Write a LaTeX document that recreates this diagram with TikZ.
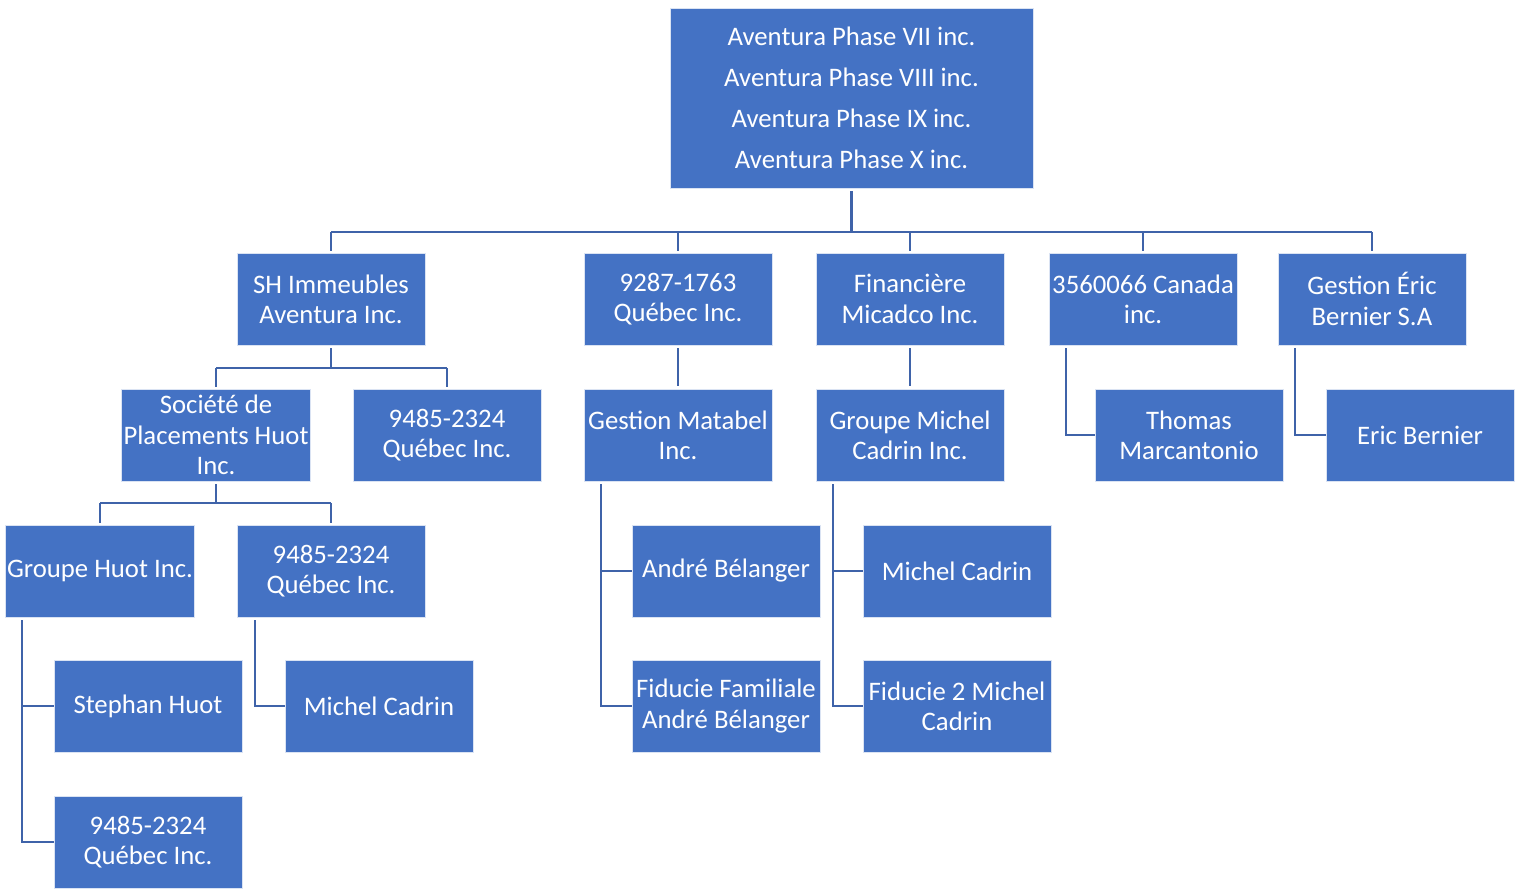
\documentclass[tikz,border=0pt]{standalone}
\usepackage{fontspec}
\setmainfont{Carlito}
\usetikzlibrary{positioning}
\definecolor{boxblue}{HTML}{4472C4}
\definecolor{linkblue}{HTML}{3F63A9}

\begin{document}
\begin{tikzpicture}[x=0.01cm, y=-0.01cm,
	every node/.style={font=\fontsize{7.6}{8.6}\selectfont},
	orgbox/.style={rectangle, fill=boxblue, draw=white!80!boxblue, line width=0.2pt, text=white, align=center, minimum width=1.88cm, minimum height=0.92cm, inner sep=0.5pt},
	link/.style={draw=linkblue, line width=0.55pt},
	trunk/.style={draw=linkblue, line width=0.8pt}]
	\useasboundingbox (0,0) rectangle (1525,888);
	% top box
	\node[orgbox, minimum width=3.63cm, minimum height=1.8cm, font=\fontsize{7.6}{11.7}\selectfont] (top) at (851.5,98) {Aventura Phase VII inc.\\Aventura Phase VIII inc.\\Aventura Phase IX inc.\\Aventura Phase X inc.};
	% first level
	\node[orgbox] (shi) at (331,299) {SH Immeubles\\Aventura Inc.};
	\node[orgbox] (q9287) at (678,299) {9287-1763\\Québec Inc.};
	\node[orgbox] (fin) at (910,299) {Financière\\Micadco Inc.};
	\node[orgbox] (c356) at (1143,299) {3560066 Canada\\inc.};
	\node[orgbox] (geb) at (1372,299) {Gestion Éric\\Bernier S.A};
	% second level
	\node[orgbox] (shp) at (216,435) {Société de\\Placements Huot\\Inc.};
	\node[orgbox] (q9485a) at (447,435) {9485-2324\\Québec Inc.};
	\node[orgbox] (gma) at (678,435) {Gestion Matabel\\Inc.};
	\node[orgbox] (gmc) at (910,435) {Groupe Michel\\Cadrin Inc.};
	\node[orgbox] (tma) at (1189,435) {Thomas\\Marcantonio};
	\node[orgbox] (ebe) at (1420,435) {Eric Bernier};
	% third level
	\node[orgbox] (ghu) at (100,571) {Groupe Huot Inc.};
	\node[orgbox] (q9485b) at (331,571) {9485-2324\\Québec Inc.};
	\node[orgbox] (abe) at (726,571) {André Bélanger};
	\node[orgbox] (mca) at (957,571) {Michel Cadrin};
	% fourth level
	\node[orgbox] (shu) at (148,706) {Stephan Huot};
	\node[orgbox] (mcb) at (379,706) {Michel Cadrin};
	\node[orgbox] (ffa) at (726,706) {Fiducie Familiale\\André Bélanger};
	\node[orgbox] (fmc) at (957,706) {Fiducie 2 Michel\\Cadrin};
	% fifth level
	\node[orgbox] (q9485c) at (148,842) {9485-2324\\Québec Inc.};

	% buses
	\coordinate (bus1) at (0,232);
	\coordinate (bus2) at (0,368);
	\coordinate (bus3) at (0,503);

	% top to first level
	\draw[trunk] ([yshift=-0.03cm]top.south) -- (top.south |- bus1);
	\draw[link] (shi.north |- bus1) -- (geb.north |- bus1);
	\foreach \n in {shi,q9287,fin,c356,geb}
		\draw[link] (\n.north |- bus1) -- ([yshift=0.02cm]\n.north);
	% SH Immeubles
	\draw[link] ([yshift=-0.03cm]shi.south) -- (shi.south |- bus2);
	\draw[link] (shp.north |- bus2) -- (q9485a.north |- bus2);
	\foreach \n in {shp,q9485a}
		\draw[link] (\n.north |- bus2) -- ([yshift=0.02cm]\n.north);
	% Société de Placements Huot
	\draw[link] ([yshift=-0.03cm]shp.south) -- (shp.south |- bus3);
	\draw[link] (ghu.north |- bus3) -- (q9485b.north |- bus3);
	\foreach \n in {ghu,q9485b}
		\draw[link] (\n.north |- bus3) -- ([yshift=0.02cm]\n.north);
	% single children
	\draw[link] ([yshift=-0.03cm]q9287.south) -- ([yshift=0.03cm]gma.north);
	\draw[link] ([yshift=-0.03cm]fin.south) -- ([yshift=0.03cm]gmc.north);
	\draw[link] ([xshift=0.17cm,yshift=-0.03cm]c356.south west) |- (tma.west);
	\draw[link] ([xshift=0.17cm,yshift=-0.03cm]geb.south west) |- (ebe.west);
	\draw[link] ([xshift=0.18cm,yshift=-0.03cm]q9485b.south west) |- (mcb.west);
	% side branches
	\draw[link] ([xshift=0.17cm,yshift=-0.03cm]gma.south west) |- (ffa.west);
	\draw[link] ([xshift=0.17cm]gma.south west |- abe.west) -- (abe.west);
	\draw[link] ([xshift=0.17cm,yshift=-0.03cm]gmc.south west) |- (fmc.west);
	\draw[link] ([xshift=0.17cm]gmc.south west |- mca.west) -- (mca.west);
	\draw[link] ([xshift=0.17cm,yshift=-0.03cm]ghu.south west) |- (q9485c.west);
	\draw[link] ([xshift=0.17cm]ghu.south west |- shu.west) -- (shu.west);
\end{tikzpicture}
\end{document}
